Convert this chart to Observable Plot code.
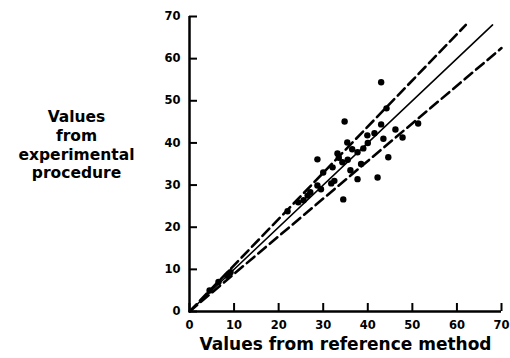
<!DOCTYPE html>
<html><head><meta charset="utf-8">
<script src="https://cdn.jsdelivr.net/npm/d3@7"></script>
<script src="https://cdn.jsdelivr.net/npm/@observablehq/plot@0.6"></script>
<style>body{margin:0;background:#fff;} svg{display:block;}</style>
</head><body><div id="chart"></div>
<script>
const refValues = [43.0,44.2,34.8,51.3,43.0,46.2,41.5,39.9,47.8,43.5,35.4,40.0,39.0,37.7,33.2,44.6,28.7,34.3,32.1,36.1,30.0,42.2,37.7,31.8,28.7,27.1,34.5,25.6,24.4,22.0,9.2,8.5,6.5,4.5,33.5,35.5,29.5,32.5,26.5,38.5,36.5];
const expValues = [54.4,48.2,45.1,44.6,44.4,43.2,42.3,41.8,41.3,41.0,40.1,40.0,38.7,37.8,37.5,36.6,36.1,35.4,34.2,33.5,33.0,31.8,31.4,30.4,29.9,28.3,26.6,26.4,25.9,23.8,9.3,8.5,7.0,5.0,36.5,36.0,29.0,31.0,27.5,35.0,38.5];
const identityLine = [[0,0],[68,68]];
const upperLine = [[0,0],[62,68]];
const lowerLine = [[0,0],[70,62.5]];
const tickValues = [0,10,20,30,40,50,60,70];
const xLabel = "Values from reference method";
const yLabel = "Values\nfrom\nexperimental\nprocedure";

const points = refValues.map((x,i)=>({x, y: expValues[i]}));
const font = "'DejaVu Sans', 'Liberation Sans', sans-serif";

const chart = Plot.plot({
  width: 510, height: 358,
  marginLeft: 189, marginRight: 9, marginTop: 16, marginBottom: 47,
  style: {fontFamily: font, fontWeight: "bold", fontSize: "12px", color: "#000", background: "#fff"},
  x: {domain: [0,70], axis: null},
  y: {domain: [0,70], axis: null},
  marks: [
    Plot.ruleX(tickValues, {x: d=>d, y1: 0, y2: 1.9, strokeWidth: 2}),
    Plot.ruleY(tickValues, {y: d=>d, x1: 0, x2: 1.8, strokeWidth: 2}),
    Plot.ruleY([0], {x1: 0, x2: 70, strokeWidth: 2.5}),
    Plot.ruleX([0], {y1: 0, y2: 70, strokeWidth: 2.5}),
    Plot.text(tickValues, {x: d=>d, y: 0, text: d=>String(d), dy: 14, fontSize: 11.5, fontWeight: "bold"}),
    Plot.text(tickValues, {x: 0, y: d=>d, text: d=>String(d), dx: -9, textAnchor: "end", fontSize: 11.5, fontWeight: "bold"}),
    Plot.line(identityLine, {x: d=>d[0], y: d=>d[1], stroke: "#000", strokeWidth: 1.6}),
    Plot.line(upperLine, {x: d=>d[0], y: d=>d[1], stroke: "#000", strokeWidth: 2.6, strokeDasharray: "10,5"}),
    Plot.line(lowerLine, {x: d=>d[0], y: d=>d[1], stroke: "#000", strokeWidth: 2.6, strokeDasharray: "10,5"}),
    Plot.dot(points, {x: "x", y: "y", r: 3.2, fill: "#000", stroke: "none"}),
    Plot.text([xLabel], {frameAnchor: "bottom", dy: 38, fontSize: 17, fontWeight: "bold", text: d=>d}),
    Plot.text([yLabel], {frameAnchor: "left", dx: -113, dy: -20, fontSize: 15.5, fontWeight: "bold", lineHeight: 1.22, textAnchor: "middle", text: d=>d})
  ]
});
document.getElementById("chart").append(chart);
</script></body></html>
